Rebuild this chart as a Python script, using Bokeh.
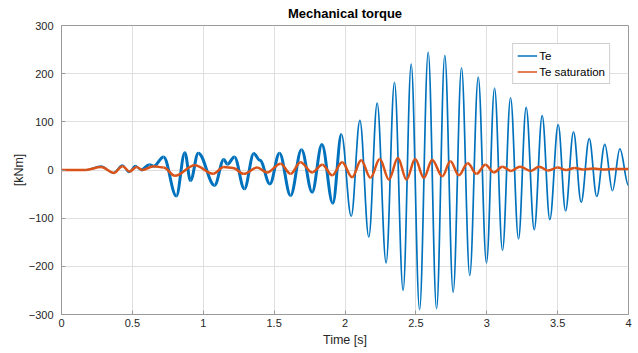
import numpy as np
from bokeh.plotting import figure
from bokeh.models import ColumnDataSource, NumeralTickFormatter, Legend, LegendItem, FixedTicker, Range1d
from bokeh.embed import file_html
from bokeh.resources import INLINE

# Te: extrema (time [s], torque [kNm])
te_t = [0.00, 0.17, 0.28, 0.365, 0.43, 0.475, 0.52, 0.56, 0.62, 0.65, 0.72, 0.81, 0.87, 0.91,
        0.965, 1.08, 1.145, 1.17, 1.22, 1.29, 1.357, 1.40, 1.47, 1.538, 1.616, 1.693, 1.768,
        1.837, 1.914, 1.975, 2.044, 2.105, 2.168, 2.227, 2.29, 2.349, 2.41, 2.467, 2.526,
        2.587, 2.646, 2.704, 2.763, 2.822, 2.88, 2.94, 2.998, 3.055, 3.111, 3.168, 3.224,
        3.278, 3.335, 3.391, 3.445, 3.504, 3.556, 3.612, 3.666, 3.723, 3.776, 3.833, 3.887,
        3.939, 4.0]
te_v = [0, 0, 8, -6, 10, -5, 9, 0, 11, 8, 27, -54, 36, -22,
        35, -32, 22, 12, 27, -39, 34, 20, -29, 35, -53, 42, -46,
        53, -69, 74, -96, 103, -139, 139, -193, 182, -250, 220, -290,
        245, -288, 238, -254, 212, -219, 193, -193, 170, -167, 150, -143,
        130, -124, 113, -103, 94, -85, 79, -67, 65, -55, 53, -43,
        44, -32]

# Te saturation: extrema
sat_t = [0.00, 0.17, 0.28, 0.37, 0.43, 0.48, 0.53, 0.57, 0.65, 0.72, 0.80, 0.94, 1.07, 1.145,
         1.21, 1.286, 1.38, 1.45, 1.545, 1.616, 1.686, 1.768, 1.84, 1.91, 1.98, 2.05, 2.114,
         2.18, 2.245, 2.31, 2.373, 2.434, 2.495, 2.556, 2.615, 2.686, 2.744, 2.803, 2.866,
         2.928, 2.99, 3.05, 3.11, 3.17, 3.235, 3.31, 3.37, 3.43, 3.50, 3.56, 3.62, 3.68,
         3.75, 3.82, 3.90, 4.0]
sat_v = [0, 0, 6, -6, 8, -3, 6, 0, 8, 5, -12, 10, -8, 6,
         4, -8, 5, -5, 13, -8, 16, -5, 11, -11, 16, -15, 20,
         -16, 23, -20, 25, -20, 23, -16, 21, -13, 18, -11, 14,
         -8, 11, -5, 7, -2, 7, -2, 7, -1, 5, 0, 4, 1,
         3, 1, 2, 2]

x_ticks = [0, 0.5, 1, 1.5, 2, 2.5, 3, 3.5, 4]
y_ticks = [-300, -200, -100, 0, 100, 200, 300]

BLUE = "#0072BD"
ORANGE = "#D95319"
FONT = "Liberation Sans"


def bezier_data(t, v, k=0.36):
    t = np.asarray(t, float)
    v = np.asarray(v, float)
    x0, x1 = t[:-1], t[1:]
    y0, y1 = v[:-1], v[1:]
    dx = x1 - x0
    return dict(x0=x0, y0=y0, x1=x1, y1=y1,
                cx0=x0 + k * dx, cy0=y0, cx1=x1 - k * dx, cy1=y1)


p = figure(width=638, height=353, output_backend="svg", toolbar_location=None,
           x_range=Range1d(0, 4), y_range=Range1d(-300, 300),
           min_border_left=61, min_border_right=10, min_border_top=25, min_border_bottom=39)

p.title.text = "Mechanical torque"
p.title.align = "center"
p.title.vertical_align = "middle"
p.title.text_font = FONT
p.title.text_font_size = "13px"
p.title.text_font_style = "bold"
p.title.text_color = "#000000"
p.title.standoff = 7

te_src = bezier_data(te_t, te_v)
te_src["w"] = np.where((te_src["x0"] >= 0.55) & (te_src["x0"] < 1.95), 3.0, 1.7)
p.bezier(x0="x0", y0="y0", x1="x1", y1="y1", cx0="cx0", cy0="cy0", cx1="cx1", cy1="cy1",
         source=ColumnDataSource(te_src), line_color=BLUE, line_width="w")
p.bezier(x0="x0", y0="y0", x1="x1", y1="y1", cx0="cx0", cy0="cy0", cx1="cx1", cy1="cy1",
         source=ColumnDataSource(bezier_data(sat_t, sat_v)), line_color=ORANGE, line_width=2.5)

# legend samples (NaN data: nothing is drawn in the plot, only the legend glyphs)
nan = float("nan")
leg_te = p.line(x=[nan, nan], y=[nan, nan], line_color=BLUE, line_width=1.5)
leg_sat = p.line(x=[nan, nan], y=[nan, nan], line_color=ORANGE, line_width=1.5)

p.xaxis.ticker = FixedTicker(ticks=x_ticks)
p.yaxis.ticker = FixedTicker(ticks=y_ticks)
p.xaxis.formatter = NumeralTickFormatter(format="0.[0]")
p.xaxis.axis_label = "Time [s]"
p.yaxis.axis_label = "[kNm]"

for ax in (p.xaxis[0], p.yaxis[0]):
    ax.axis_line_color = "#9a9a9a"
    ax.major_tick_line_color = "#9a9a9a"
    ax.major_tick_in = 4
    ax.major_tick_out = 0
    ax.minor_tick_line_color = None
    ax.major_label_text_font = FONT
    ax.major_label_text_font_size = "11px"
    ax.major_label_text_color = "#262626"
    ax.axis_label_text_font = FONT
    ax.axis_label_text_font_size = "12.5px"
    ax.axis_label_text_font_style = "normal"
    ax.axis_label_text_color = "#262626"

p.xaxis.major_label_standoff = 4
p.xaxis.axis_label_standoff = 3
p.yaxis.major_label_standoff = 8
p.yaxis.axis_label_standoff = 0

p.xgrid.grid_line_color = "#dfdfdf"
p.ygrid.grid_line_color = "#dfdfdf"
p.outline_line_color = "#9a9a9a"
p.outline_line_width = 1
p.background_fill_color = "white"
p.border_fill_color = "white"

legend = Legend(items=[LegendItem(label="Te", renderers=[leg_te]),
                       LegendItem(label="Te saturation", renderers=[leg_sat])],
                location="top_right", margin=18, padding=4, spacing=1,
                glyph_width=20, glyph_height=15, label_standoff=2,
                label_text_font=FONT, label_text_font_size="11.5px", label_text_color="#000000",
                border_line_color="#a0a0a0", border_line_width=1,
                background_fill_color="white", background_fill_alpha=1)
p.add_layout(legend)

open("out.html", "w").write(file_html(p, INLINE))
